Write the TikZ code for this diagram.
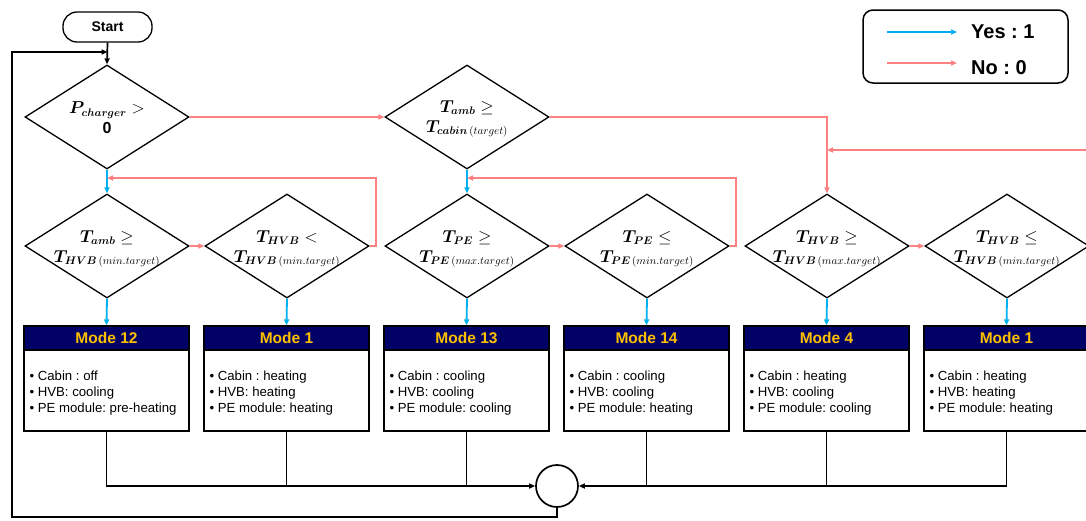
\documentclass[tikz,border=0pt]{standalone}
\usepackage{amsmath}
\usepackage{bm}
\usepackage{fontspec}
\setmainfont{Liberation Sans}
\usetikzlibrary{shapes.geometric,arrows.meta}
\definecolor{yesc}{RGB}{0,176,240}
\definecolor{noc}{RGB}{255,128,128}
\definecolor{navy}{RGB}{0,0,102}
\definecolor{gold}{RGB}{255,192,0}
\frenchspacing
\begin{document}
\begin{tikzpicture}[x=1pt,y=-1pt,
  tip/.style={-{Triangle[length=6pt,width=5pt]}},
  blk/.style={draw=black,line width=1.7pt},
  yesl/.style={draw=yesc,line width=1.8pt},
  nol/.style={draw=noc,line width=1.8pt},
  dia/.style={draw,diamond,minimum width=164pt,minimum height=104pt,inner sep=0pt,line width=1.3pt},
  dtxt/.style={align=center,font=\fontsize{16}{20}\selectfont,inner sep=0pt},
  mhead/.style={draw,fill=navy,line width=1.3pt,minimum width=165pt,minimum height=24pt,inner sep=0pt,text=gold,font=\fontsize{15.5}{18}\selectfont\bfseries},
  mbody/.style={draw,fill=white,line width=1.3pt,minimum width=165pt,minimum height=81pt,inner sep=0pt},
  btxt/.style={anchor=west,align=left,inner sep=0pt,font=\fontsize{13.2}{16}\selectfont},
]
\useasboundingbox (0,0) rectangle (1086,520);
\clip (0,0) rectangle (1086,520);
\fill[white] (0,0) rectangle (1086,520);

% start
\node[draw,rounded corners=14pt,line width=1.3pt,minimum width=89pt,minimum height=30pt,inner sep=0pt,font=\fontsize{14}{16}\selectfont\bfseries] (start) at (107.5,27) {Start};

% legend
\node[draw,rounded corners=10pt,line width=1.5pt,minimum width=205pt,minimum height=73pt] (leg) at (965.5,46.5) {};
\coordinate (ly1) at (887,32); \coordinate (ly2) at (957,32);
\coordinate (ln1) at (887,63); \coordinate (ln2) at (957,63);
\draw[yesl,tip,line width=1.4pt] (ly1) -- (ly2);
\draw[nol,tip,line width=1.4pt] (ln1) -- (ln2);
\node[anchor=west,inner sep=0pt,font=\fontsize{20}{22}\selectfont\bfseries] (lyt) at (971,32) {Yes : 1};
\node[anchor=west,inner sep=0pt,font=\fontsize{20}{22}\selectfont\bfseries] (lnt) at (971,68) {No : 0};

% first row diamonds
\node[dia] (d1) at (107,117) {};
\node[dtxt] (d1t) at (107,118) {$\bm{P}_{\bm{charger}}>$\\$\mathbf{0}$};
\node[dia] (d2) at (467,117) {};
\node[dtxt] (d2t) at (467,119) {$\bm{T}_{\bm{amb}}\geq$\\$\bm{T}_{\bm{cabin}\,(target)}$};

% second row diamonds
\foreach \n/\x in {a1/107,a2/287,a3/467,a4/647,a5/827,a6/1007}
  \node[dia] (\n) at (\x,246) {};
\node[dtxt] (a1t) at (107,249) {$\bm{T}_{\bm{amb}}\geq$\\$\bm{T}_{\bm{HVB}\,(min.target)}$};
\node[dtxt] (a2t) at (287,249) {$\bm{T}_{\bm{HVB}}<$\\$\bm{T}_{\bm{HVB}\,(min.target)}$};
\node[dtxt] (a3t) at (467,249) {$\bm{T}_{\bm{PE}}\geq$\\$\bm{T}_{\bm{PE}\,(max.target)}$};
\node[dtxt] (a4t) at (647,249) {$\bm{T}_{\bm{PE}}\leq$\\$\bm{T}_{\bm{PE}\,(min.target)}$};
\node[dtxt] (a5t) at (827,249) {$\bm{T}_{\bm{HVB}}\geq$\\$\bm{T}_{\bm{HVB}\,(max.target)}$};
\node[dtxt] (a6t) at (1007,249) {$\bm{T}_{\bm{HVB}}\leq$\\$\bm{T}_{\bm{HVB}\,(min.target)}$};

% mode boxes
\foreach \i/\x/\m in {1/106.5/12,2/286.5/1,3/466.5/13,4/646.5/14,5/826.5/4,6/1006.5/1}{
  \node[mhead] (h\i) at (\x,338) {Mode \m};
  \node[mbody] (b\i) at (\x,390.5) {};
}
\node[btxt] (t1) at ([xshift=6pt,yshift=-3pt]b1.west) {• Cabin : off\\• HVB: cooling\\• PE module: pre-heating};
\node[btxt] (t2) at ([xshift=6pt,yshift=-3pt]b2.west) {• Cabin : heating\\• HVB: heating\\• PE module: heating};
\node[btxt] (t3) at ([xshift=6pt,yshift=-3pt]b3.west) {• Cabin : cooling\\• HVB: cooling\\• PE module: cooling};
\node[btxt] (t4) at ([xshift=6pt,yshift=-3pt]b4.west) {• Cabin : cooling\\• HVB: cooling\\• PE module: heating};
\node[btxt] (t5) at ([xshift=6pt,yshift=-3pt]b5.west) {• Cabin : heating\\• HVB: cooling\\• PE module: cooling};
\node[btxt] (t6) at ([xshift=6pt,yshift=-3pt]b6.west) {• Cabin : heating\\• HVB: heating\\• PE module: heating};

% merge circle
\node[draw,circle,line width=1.7pt,minimum size=42pt,inner sep=0pt] (circ) at (557,486) {};

% yes connectors
\draw[yesl,tip] (d1.south) -- (a1.north);
\draw[yesl,tip] (d2.south) -- (a3.north);
\foreach \i in {1,...,6} \draw[yesl,tip] (a\i.south) -- (h\i.north);

% no connectors
\draw[nol,tip] (d1.east) -- (d2.west);
\draw[nol,tip] (a1.east) -- (a2.west);
\draw[nol,tip] (a3.east) -- (a4.west);
\draw[nol,tip] (a5.east) -- (a6.west);
\coordinate (r1) at (376,178);
\coordinate (r2) at (736,178);
\draw[nol,tip] (a2.east) -| (r1) -- (r1 -| a1.north);
\draw[nol,tip] (a4.east) -| (r2) -- (r2 -| a3.north);
\draw[nol,tip] (d2.east) -| (a5.north);
\coordinate (rin) at (1095,150);
\draw[nol,tip] (rin) -- (rin -| a5.north);

% black connectors
\draw[blk,tip] (start.south) -- (d1.north);
\coordinate (lp1) at (12,517);
\coordinate (lp2) at (12,52);
\draw[blk,tip] (circ.south) |- (lp1) -- (lp2) -- (lp2 -| start.south);
\draw[blk,tip] (b1.south) |- (circ.west);
\draw[blk] (b2.south) -- (b2.south |- circ.west);
\draw[blk] (b3.south) -- (b3.south |- circ.west);
\draw[blk,tip] (b6.south) |- (circ.east);
\draw[blk] (b5.south) -- (b5.south |- circ.east);
\draw[blk] (b4.south) -- (b4.south |- circ.east);
\end{tikzpicture}
\end{document}
